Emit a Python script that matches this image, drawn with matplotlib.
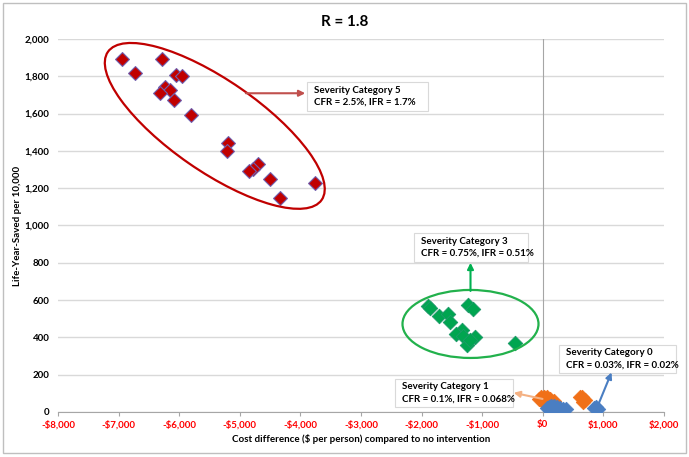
import matplotlib.pyplot as plt
from matplotlib.patches import Ellipse, Rectangle
from matplotlib import transforms
from matplotlib.ticker import FuncFormatter

# severity category 5 (red)
cat5_x = [-6950, -6730, -6290, -6045, -5960, -6240, -6155, -6310, -6085, -5800,
          -5195, -5205, -4700, -4780, -4845, -4495, -4330, -3760]
cat5_y = [1890, 1815, 1890, 1805, 1800, 1740, 1725, 1710, 1675, 1595,
          1440, 1400, 1330, 1305, 1290, 1250, 1150, 1230]

# severity category 3 (green)
cat3_x = [-1890, -1865, -1710, -1560, -1535, -1235, -1150, -1340, -1425,
          -1315, -1120, -1250, -1205, -460]
cat3_y = [568, 555, 515, 525, 485, 574, 550, 440, 420, 405, 400, 360, 385, 368]

# severity category 1 (orange)
cat1_x = [-70, -30, 20, 70, 120, 190, 0, 60, 620, 650, 690, 660]
cat1_y = [72, 80, 82, 80, 72, 58, 52, 48, 78, 80, 66, 56]

# severity category 0 (blue)
cat0_x = [70, 100, 140, 180, 230, 280, 330, 375, 120, 220, 840, 870, 905]
cat0_y = [20, 28, 32, 30, 28, 22, 18, 18, 12, 10, 22, 28, 15]

xticks = list(range(-8000, 2001, 1000))
yticks = list(range(0, 2001, 200))

plt.rcParams['font.family'] = ['Lato', 'DejaVu Sans']

fig = plt.figure(figsize=(6.89, 4.57), dpi=100)
ax = fig.add_axes([0.0842, 0.0985, 0.8795, 0.8162])

# chart border
fig.patches.append(Rectangle((0.005, 0.008), 0.99, 0.985, transform=fig.transFigure,
                             fill=False, ec='#BFBFBF', lw=1))

ax.set_xlim(-8000, 2000)
ax.set_ylim(0, 2000)
ax.set_xticks(xticks)
ax.set_yticks(yticks)
ax.xaxis.set_major_formatter(FuncFormatter(lambda v, p: ('-$' if v < 0 else '$') + format(int(abs(v)), ',')))
ax.yaxis.set_major_formatter(FuncFormatter(lambda v, p: format(int(v), ',')))
for lab in ax.get_xticklabels():
    lab.set_color('#FF0000')
    lab.set_fontweight('bold')
for lab in ax.get_yticklabels():
    lab.set_fontweight('bold')
ax.tick_params(axis='x', labelsize=7, length=3, color='#A6A6A6', pad=3)
ax.tick_params(axis='y', labelsize=7, length=0, pad=6)

for s in ['top', 'right', 'left']:
    ax.spines[s].set_visible(False)
ax.spines['bottom'].set_color('#A6A6A6')
ax.grid(axis='y', color='#D9D9D9', lw=1)
ax.set_axisbelow(True)
ax.axvline(0, color='#A6A6A6', lw=0.8, zorder=1)

ax.scatter(cat5_x, cat5_y, marker='D', s=50, c='#C00000', edgecolors='#7060B0', linewidths=0.8, zorder=3)
ax.scatter(cat3_x, cat3_y, marker='D', s=55, c='#00A550', edgecolors='#1E9A6A', linewidths=0.6, zorder=3)
ax.scatter(cat1_x, cat1_y, marker='D', s=55, c='#F07018', edgecolors='#F07018', linewidths=0.5, zorder=3)
ax.scatter(cat0_x, cat0_y, marker='D', s=55, c='#4A7EC2', edgecolors='#4A7EC2', linewidths=0.5, zorder=4)

# ellipses, sized in inches, centred in data coordinates
def ring(cx, cy, w, h, ang, col):
    tr = fig.dpi_scale_trans + transforms.ScaledTranslation(cx, cy, ax.transData)
    ax.add_patch(Ellipse((0, 0), w, h, angle=ang, transform=tr, fill=False, ec=col, lw=1.6, zorder=5))

ring(-5413, 1534, 2.6, 0.91, -34.7, '#C00000')
ring(-1193, 472, 1.36, 0.68, 0, '#22B14C')

# label boxes (left, right, bottom, top in data units)
def label(x0, x1, y0, y1, txt):
    ax.add_patch(Rectangle((x0, y0), x1 - x0, y1 - y0, fc='white', ec='#D9D9D9', lw=0.8,
                           zorder=6, clip_on=False))
    ax.text(x0 + 115, (y0 + y1) / 2, txt, fontsize=7, fontweight='bold', va='center', ha='left',
            zorder=7, linespacing=1.45, clip_on=False)

label(-3894, -1898, 1614, 1769, 'Severity Category 5\nCFR = 2.5%, IFR = 1.7%')
label(-2129, -248, 804, 960, 'Severity Category 3\nCFR = 0.75%, IFR = 0.51%')
label(-2442, -495, 27, 177, 'Severity Category 1\nCFR = 0.1%, IFR = 0.068%')
label(264, 2195, 209, 359, 'Severity Category 0\nCFR = 0.03%, IFR = 0.02%')

def arrow(x0, y0, x1, y1, col):
    ax.annotate('', xy=(x1, y1), xytext=(x0, y0), zorder=8,
                arrowprops=dict(arrowstyle='-|>', color=col, lw=1.5, mutation_scale=9,
                                shrinkA=0, shrinkB=0))

arrow(-4900, 1709, -3920, 1709, '#C0504D')
arrow(-1193, 649, -1193, 800, '#00B050')
arrow(-5, 70, -480, 103, '#F4B183')
arrow(886, 16, 1134, 212, '#4A7EC2')

fig.text(0.5, 0.952, 'R = 1.8', ha='center', va='center', fontsize=11, fontweight='bold')
ax.set_xlabel('Cost difference ($ per person) compared to no intervention', fontsize=7,
              fontweight='bold', labelpad=3)
ax.set_ylabel('Life-Year-Saved per 10,000', fontsize=7, fontweight='bold', labelpad=2)

fig.savefig('out.png', dpi=100)
